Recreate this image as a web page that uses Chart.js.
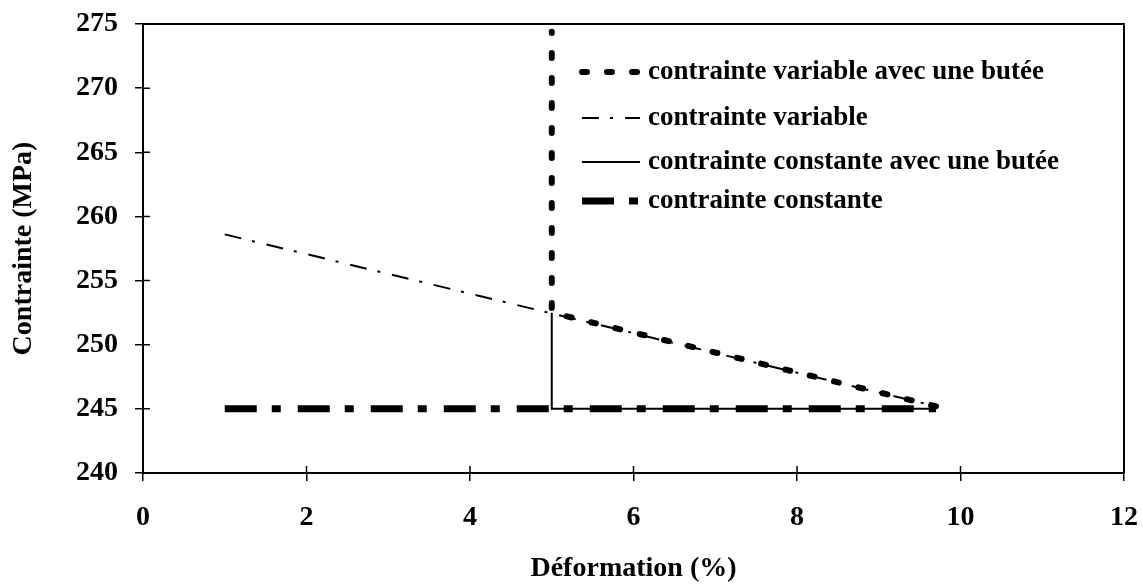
<!DOCTYPE html>
<html lang="fr">
<head>
    <meta charset="UTF-8">
    <title>Contrainte vs Déformation</title>
    <script src="https://cdn.jsdelivr.net/npm/chart.js"></script>
    <style>
        html, body { margin: 0; padding: 0; background: #fff; }
        .chart-box { position: relative; width: 1143px; height: 586px; }
    </style>
</head>
<body>
    <div class="chart-box">
        <canvas id="stressChart"></canvas>
    </div>

    <script>
        // series data (déformation en %, contrainte en MPa)
        const xVarButee = [9.7, 5, 5];
        const yVarButee = [245.2, 252.5, 274.4];
        const xVariable = [1, 9.7];
        const yVariable = [258.6, 245.2];
        const xConstButee = [9.7, 5, 5];
        const yConstButee = [245, 245, 252.5];
        const xConstante = [1, 9.7];
        const yConstante = [245, 245];

        const seriesLabels = [
            'contrainte variable avec une butée',
            'contrainte variable',
            'contrainte constante avec une butée',
            'contrainte constante'
        ];
        const xTicks = [0, 2, 4, 6, 8, 10, 12];
        const yTicks = [240, 245, 250, 255, 260, 265, 270, 275];

        const FONT = '"Liberation Serif", "Times New Roman", serif';

        function toPoints(xs, ys) {
            return xs.map((x, i) => ({ x: x, y: ys[i] }));
        }

        const styles = [
            { width: 6, dash: [5, 20], cap: 'round' },
            { width: 2, dash: [17, 11, 3, 12], cap: 'butt' },
            { width: 2, dash: [], cap: 'butt' },
            { width: 7, dash: [32, 15, 9, 17], cap: 'butt' }
        ];

        const pointSets = [
            toPoints(xVarButee, yVarButee),
            toPoints(xVariable, yVariable),
            toPoints(xConstButee, yConstButee),
            toPoints(xConstante, yConstante)
        ];

        const datasets = pointSets.map((pts, i) => ({
            label: seriesLabels[i],
            data: pts,
            showLine: true,
            borderColor: '#000',
            backgroundColor: '#000',
            borderWidth: styles[i].width,
            borderDash: styles[i].dash,
            borderCapStyle: styles[i].cap,
            pointRadius: 0,
            tension: 0
        }));

        // frame on top/right + inner half of tick marks + legend
        const framePlugin = {
            id: 'frame',
            afterDatasetsDraw(chart) {
                const { ctx, chartArea: a, scales } = chart;
                ctx.save();
                ctx.strokeStyle = '#000';
                ctx.lineWidth = 2;
                ctx.beginPath();
                ctx.moveTo(a.left, a.top);
                ctx.lineTo(a.right, a.top);
                ctx.lineTo(a.right, a.bottom);
                ctx.stroke();

                ctx.lineWidth = 1.5;
                ctx.beginPath();
                yTicks.forEach(v => {
                    const y = scales.y.getPixelForValue(v);
                    ctx.moveTo(a.left, y);
                    ctx.lineTo(a.left + 7, y);
                });
                xTicks.forEach(v => {
                    const x = scales.x.getPixelForValue(v);
                    ctx.moveTo(x, a.bottom);
                    ctx.lineTo(x, a.bottom - 7);
                });
                ctx.stroke();

                // legend
                const rows = [72, 118, 162, 201];
                const x0 = 582, x1 = 640, tx = 648;
                ctx.font = 'bold 27px ' + FONT;
                ctx.fillStyle = '#000';
                ctx.textBaseline = 'middle';
                rows.forEach((y, i) => {
                    ctx.lineWidth = styles[i].width;
                    ctx.setLineDash(styles[i].dash);
                    ctx.lineCap = styles[i].cap;
                    ctx.beginPath();
                    ctx.moveTo(x0, y);
                    ctx.lineTo(x1, y);
                    ctx.stroke();
                    ctx.setLineDash([]);
                    ctx.fillText(seriesLabels[i], tx, y);
                });
                ctx.restore();
            }
        };

        new Chart(document.getElementById('stressChart'), {
            type: 'scatter',
            data: { datasets: datasets },
            options: {
                responsive: true,
                maintainAspectRatio: false,
                animation: false,
                layout: { padding: { top: 24, right: 19, left: 0, bottom: 0 } },
                plugins: {
                    legend: { display: false },
                    tooltip: { enabled: false }
                },
                scales: {
                    x: {
                        type: 'linear',
                        min: 0,
                        max: 12,
                        afterBuildTicks(scale) { scale.ticks = xTicks.map(v => ({ value: v })); },
                        afterFit(scale) {
                            scale.height = 113;
                            scale.paddingLeft = 0;
                            scale.paddingRight = 0;
                        },
                        border: { color: '#000', width: 2 },
                        grid: { drawOnChartArea: false, drawTicks: true, tickLength: 8, color: '#000', lineWidth: 1.5 },
                        ticks: { color: '#000', padding: 20, font: { family: FONT, size: 28, weight: 'bold' } },
                        title: {
                            display: true,
                            text: 'Déformation (%)',
                            color: '#000',
                            font: { family: FONT, size: 28, weight: 'bold' },
                            padding: { top: 0, bottom: 0 }
                        }
                    },
                    y: {
                        type: 'linear',
                        min: 240,
                        max: 275,
                        afterBuildTicks(scale) { scale.ticks = yTicks.map(v => ({ value: v })); },
                        afterFit(scale) {
                            scale.width = 143;
                            scale.paddingTop = 0;
                            scale.paddingBottom = 0;
                        },
                        border: { color: '#000', width: 2 },
                        grid: { drawOnChartArea: false, drawTicks: true, tickLength: 8, color: '#000', lineWidth: 1.5 },
                        ticks: { color: '#000', padding: 17, font: { family: FONT, size: 28, weight: 'bold' } },
                        title: {
                            display: true,
                            text: 'Contrainte (MPa)',
                            color: '#000',
                            font: { family: FONT, size: 28, weight: 'bold' },
                            padding: { top: 7, bottom: 0 }
                        }
                    }
                }
            },
            plugins: [framePlugin]
        });
    </script>
</body>
</html>
